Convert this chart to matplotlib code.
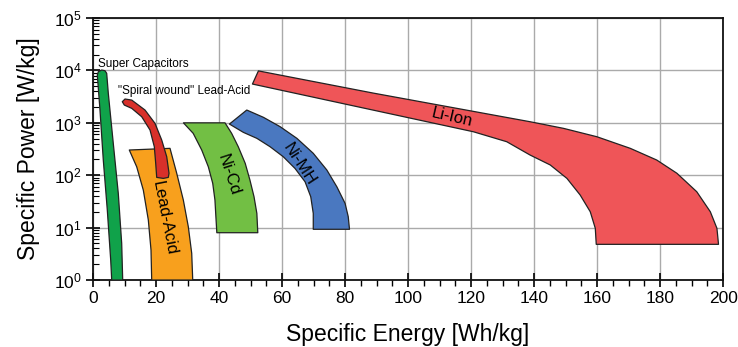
import matplotlib
matplotlib.use("Agg")
import matplotlib.pyplot as plt
from matplotlib.ticker import LogLocator, MultipleLocator

plt.rcParams['font.family'] = ['Liberation Sans', 'DejaVu Sans']
plt.rcParams['mathtext.fontset'] = 'custom'
plt.rcParams['mathtext.rm'] = 'Liberation Sans'
plt.rcParams['mathtext.it'] = 'Liberation Sans'
plt.rcParams['mathtext.default'] = 'regular'

# ---- data: outlines of each technology region (energy Wh/kg, power W/kg)
supercap_x = [1.37, 1.69, 2.76, 3.81, 4.35, 4.86, 6.44, 8.03, 9.11, 9.43,
              5.94, 5.62, 4.54, 3.27, 2.22]
supercap_y = [8170, 9440, 10180, 9870, 8810, 3660, 406, 45, 5.0, 1.0,
              1.0, 2.41, 21.7, 195, 1755]

spiral_x = [9.30, 10.16, 12.29, 16.51, 19.68, 21.81, 23.40, 24.13, 23.90, 22.32,
            20.22, 19.90, 19.46, 18.10, 15.46, 12.29, 9.94]
spiral_y = [2530, 2850, 2720, 1755, 977, 470, 225, 109, 91, 87,
            91, 169, 350, 729, 1307, 1890, 2185]

lead_x = [11.52, 24.44, 26.57, 28.67, 30.25, 31.33, 31.65, 18.63, 18.41, 17.56, 15.97, 13.87]
lead_y = [303, 326, 109, 33.6, 10.4, 3.23, 1.0, 1.0, 3.74, 14.0, 52, 145]

nicd_x = [28.7, 41.9, 44.0, 46.1, 48.3, 49.8, 51.1, 52.0, 52.3,
          39.3, 39.0, 38.7, 38.0, 36.6, 34.5, 31.8]
nicd_y = [1000, 1000, 630, 350, 169, 81, 38.9, 18.7, 8.0,
          8.0, 16.2, 33.6, 70, 145, 303, 630]

nimh_x = [48.8, 54.1, 59.4, 64.7, 69.9, 74.2, 77.4, 80.0, 81.0, 81.4,
          69.9, 69.9, 69.1, 67.3, 64.1, 60.4, 56.2, 52.0, 47.7, 43.3]
nimh_y = [1755, 1273, 843, 506, 262, 126, 60, 29, 16.2, 9.3,
          9.3, 18.7, 38.9, 75, 135, 225, 350, 506, 659, 948]

liion_x = [50.6, 52.5, 88.9, 138.7, 149.3, 159.9, 170.5, 178.9, 185.3, 191.6,
           195.9, 198.0, 198.5,
           159.7, 159.4, 157.8, 154.6, 150.4, 145.1, 138.7, 131.3, 120.7]
liion_y = [5500, 9800, 3700, 1050, 785, 543, 326, 195, 109, 48.4,
           20.1, 9.7, 4.8,
           4.8, 9.7, 20.1, 41.9, 87, 157, 243, 436, 676]

colors = {
    'supercap': '#10a24a',
    'spiral': '#d8302a',
    'lead': '#f8a01d',
    'nicd': '#72bf44',
    'nimh': '#4a78c0',
    'liion': '#ef5558',
}

x_ticks = [0, 20, 40, 60, 80, 100, 120, 140, 160, 180, 200]

fig = plt.figure(figsize=(7.38, 3.47), dpi=100)
ax = fig.add_axes([0.126, 0.193, 0.854, 0.755])

ax.set_xlim(0, 200)
ax.set_yscale('log')
ax.set_ylim(1, 1e5)

ax.grid(True, which='major', color='#aaaaaa', linewidth=1.0, zorder=0)
ax.set_axisbelow(True)

for xs, ys, key in [(supercap_x, supercap_y, 'supercap'),
                    (lead_x, lead_y, 'lead'),
                    (spiral_x, spiral_y, 'spiral'),
                    (nicd_x, nicd_y, 'nicd'),
                    (nimh_x, nimh_y, 'nimh'),
                    (liion_x, liion_y, 'liion')]:
    ax.fill(xs, ys, facecolor=colors[key], edgecolor='#222222', linewidth=0.9,
            joinstyle='round', zorder=3)

ax.text(1.6, 1.35e4, 'Super Capacitors', fontsize=8.5, ha='left', va='center', zorder=4)
ax.text(7.9, 4.0e3, '"Spiral wound" Lead-Acid', fontsize=8.5, ha='left', va='center', zorder=4)
ax.text(114, 1300, 'Li-Ion', fontsize=12, ha='center', va='center', rotation=-13, zorder=4)
ax.text(65.5, 165, 'Ni-MH', fontsize=12, ha='center', va='center', rotation=-57, zorder=4)
ax.text(43, 100, 'Ni-Cd', fontsize=12, ha='center', va='center', rotation=-72, zorder=4)
ax.text(22.5, 15, 'Lead-Acid', fontsize=12, ha='center', va='center', rotation=-79, zorder=4)

ax.set_xticks(x_ticks)
ax.xaxis.set_minor_locator(MultipleLocator(5))
ax.yaxis.set_major_locator(LogLocator(base=10, numticks=10))
ax.yaxis.set_minor_locator(LogLocator(base=10, subs=range(2, 10), numticks=20))

ax.tick_params(axis='x', which='major', direction='inout', length=10, width=1.2, labelsize=12.5, pad=3)
ax.tick_params(axis='x', which='minor', direction='out', length=4, width=1.0)
ax.tick_params(axis='y', which='major', direction='inout', length=10, width=1.2, labelsize=12.5, pad=3)
ax.tick_params(axis='y', which='minor', direction='in', length=4, width=0.8)

for s in ax.spines.values():
    s.set_linewidth(1.3)
    s.set_color('#111111')

ax.set_xlabel('Specific Energy [Wh/kg]', fontsize=16.5, labelpad=12)
ax.set_ylabel('Specific Power [W/kg]', fontsize=16.5, labelpad=10)

fig.savefig('out.png', dpi=100)
